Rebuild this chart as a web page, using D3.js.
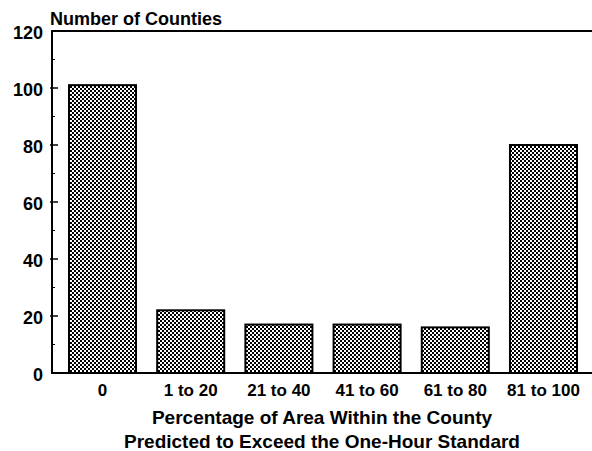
<!DOCTYPE html>
<html>
<head>
<meta charset="utf-8">
<script src="https://cdn.jsdelivr.net/npm/d3@7"></script>
<style>
  html, body { margin: 0; padding: 0; background: #fff; overflow: hidden; }
  svg { display: block; }
  text { font-family: "Liberation Sans", Arial, sans-serif; font-weight: bold; fill: #000; }
</style>
</head>
<body>
<div id="chart"></div>
<script>
// Data
const categories = ["0", "1 to 20", "21 to 40", "41 to 60", "61 to 80", "81 to 100"];
const counts = [101, 22, 17, 17, 16, 80];
const yTicks = [0, 20, 40, 60, 80, 100, 120];
const minorTicks = [10, 30, 50, 70, 90, 110];

const width = 592;
const height = 451;
const margin = { top: 31, right: 0, bottom: 78, left: 52 };

const svg = d3.select("#chart")
  .append("svg")
  .attr("width", width)
  .attr("height", height);

// checkerboard fill like the halftone print
const defs = svg.append("defs");
const pat = defs.append("pattern")
  .attr("id", "checker")
  .attr("width", 4)
  .attr("height", 4)
  .attr("patternUnits", "userSpaceOnUse");
pat.append("rect").attr("width", 4).attr("height", 4).attr("fill", "#fff");
pat.append("rect").attr("width", 2).attr("height", 2).attr("fill", "#000");
pat.append("rect").attr("x", 2).attr("y", 2).attr("width", 2).attr("height", 2).attr("fill", "#000");

const x = d3.scaleBand()
  .domain(categories)
  .range([margin.left + 2, width])
  .paddingInner(0.24)
  .paddingOuter(0.17);

const y = d3.scaleLinear()
  .domain([0, 120])
  .range([height - margin.bottom, margin.top]);

// bars
svg.append("g")
  .selectAll("rect")
  .data(counts)
  .join("rect")
    .attr("x", (d, i) => x(categories[i]))
    .attr("y", d => y(d))
    .attr("width", x.bandwidth())
    .attr("height", d => y(0) - y(d))
    .attr("fill", "url(#checker)")
    .attr("stroke", "#000")
    .attr("stroke-width", 2);

// frame lines: left, top and bottom
const frame = svg.append("g").attr("stroke", "#000").attr("stroke-width", 2);
frame.append("line")
  .attr("x1", margin.left).attr("x2", margin.left)
  .attr("y1", y(120) - 1).attr("y2", y(0) + 1);
frame.append("line")
  .attr("x1", margin.left).attr("x2", width)
  .attr("y1", y(120)).attr("y2", y(120));
frame.append("line")
  .attr("x1", margin.left).attr("x2", width)
  .attr("y1", y(0)).attr("y2", y(0));

// y ticks
frame.selectAll(".major")
  .data(yTicks.slice(1, -1))
  .join("line")
    .attr("x1", margin.left - 2).attr("x2", margin.left + 6)
    .attr("y1", d => y(d)).attr("y2", d => y(d))
    .attr("stroke-width", 1.5);
frame.selectAll(".minor")
  .data(minorTicks)
  .join("line")
    .attr("x1", margin.left).attr("x2", margin.left + 3)
    .attr("y1", d => y(d)).attr("y2", d => y(d))
    .attr("stroke-width", 1);

svg.append("g")
  .attr("text-anchor", "end")
  .style("font-size", "18px")
  .selectAll("text")
  .data(yTicks)
  .join("text")
    .attr("x", margin.left - 9)
    .attr("y", d => y(d) + 8)
    .text(d => d);

// category labels
svg.append("g")
  .attr("text-anchor", "middle")
  .style("font-size", "17px")
  .selectAll("text")
  .data(categories)
  .join("text")
    .attr("x", d => x(d) + x.bandwidth() / 2)
    .attr("y", 396)
    .text(d => d);

// titles
svg.append("text")
  .attr("x", 50)
  .attr("y", 25)
  .style("font-size", "18px")
  .text("Number of Counties");

svg.append("text")
  .attr("x", 322)
  .attr("y", 424)
  .attr("text-anchor", "middle")
  .style("font-size", "19px")
  .text("Percentage of Area Within the County");

svg.append("text")
  .attr("x", 322)
  .attr("y", 448)
  .attr("text-anchor", "middle")
  .style("font-size", "19px")
  .text("Predicted to Exceed the One-Hour Standard");
</script>
</body>
</html>
